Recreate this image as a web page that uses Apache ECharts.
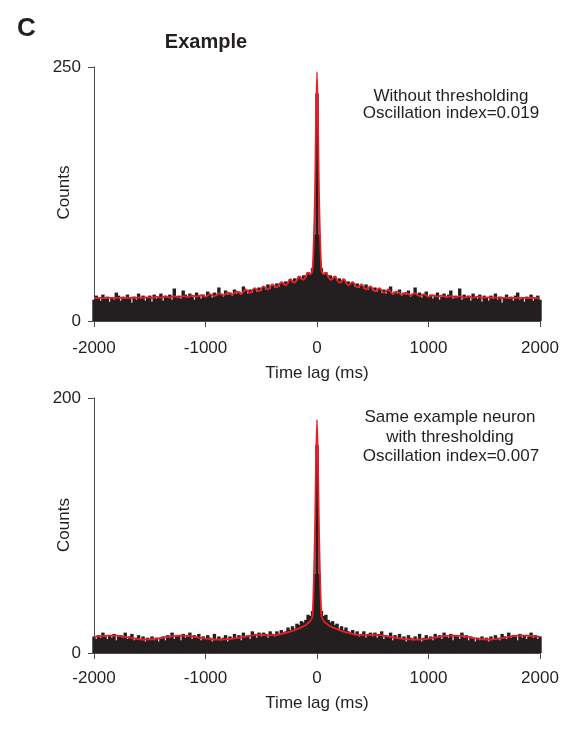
<!DOCTYPE html>
<html>
<head>
<meta charset="utf-8">
<script src="https://cdn.jsdelivr.net/npm/echarts@6/dist/echarts.min.js"></script>
<style>html,body{margin:0;padding:0;background:#fff}#c{width:572px;height:731px}</style>
</head>
<body>
<div id="c"></div>
<script>
// Autocorrelogram, 20 ms bins, lags -2000..2000 ms
const binWidthMs = 20;
const xTicks = [-2000, -1000, 0, 1000, 2000];

// ---- Top panel (without thresholding) ----
const topCountsNeg = [
  21, 25, 23, 20, 26, 22, 24, 19, 23, 21, 28, 25, 20, 24, 22, 26, 23, 18, 24, 21, 27, 22, 25, 20, 23,
  25, 19, 26, 22, 24, 27, 20, 25, 23, 26, 21, 32, 24, 25, 22, 30, 26, 23, 27, 24, 21, 28, 25, 22, 26,
  24, 29, 26, 23, 28, 25, 33, 27, 24, 30, 26, 28, 25, 31, 27, 29, 26, 34, 30, 27, 31, 28, 32, 29, 33,
  30, 34, 31, 36, 32, 35, 33, 37, 34, 38, 36, 39, 37, 41, 38, 42, 40, 44, 41, 45, 43, 48, 46, 52, 85
];
const topCountsZero = 224;
const topCountsPos = [
  85, 52, 46, 48, 43, 45, 41, 44, 40, 42, 38, 41, 37, 39, 36, 38, 34, 37, 33, 35, 32, 36, 31, 34, 30,
  33, 29, 32, 28, 31, 27, 30, 34, 26, 29, 27, 31, 25, 28, 26, 30, 24, 27, 33, 25, 28, 23, 26, 29, 24,
  26, 22, 25, 28, 21, 24, 27, 23, 26, 30, 22, 25, 24, 32, 21, 26, 23, 25, 20, 27, 24, 22, 26, 19, 25,
  23, 20, 25, 22, 27, 21, 24, 18, 23, 26, 22, 24, 20, 25, 28, 21, 23, 19, 24, 22, 26, 20, 23, 25, 21
];
const topFitNeg = [
  22.6, 22.5, 22.6, 22.8, 22.6, 22.7, 22.6, 22.8, 22.7, 22.6, 22.9, 22.7, 22.8, 22.6, 22.8, 22.9, 22.7, 22.9, 23.0, 22.8, 23.1, 22.9, 23.0, 23.3, 23.1,
  23.2, 22.8, 23.3, 23.7, 23.4, 23, 23.5, 23.9, 23.6, 23.1, 23.7, 24.2, 23.8, 23.3, 23.9, 24.5, 24.1, 23.7, 24.3, 24.9, 24.5, 24, 24.7, 25.4, 24.9,
  23.8, 25.1, 26.4, 25.4, 24.4, 25.8, 27.2, 26.2, 25.2, 26.6, 28, 27, 26.1, 27.5, 29, 28.1, 26.4, 28.7, 31, 29.3, 27.6, 30, 32.4, 30.8, 29.2,
  31.6, 34, 32.5, 31, 33.5, 36, 34.5, 33, 35.6, 38.2, 36.8, 34.9, 38, 41.2, 39.3, 37.5, 40.6, 43.8, 42, 40.5, 44, 47.5, 46, 50, 115
];
const topFitZero = 245;
const topFitPos = [
  115, 50, 46, 47.5, 44, 40.5, 42, 43.8, 40.6, 37.5, 39.3, 41.2, 38, 34.9, 36.8, 38.2, 35.6, 33, 34.5, 36, 33.5, 31, 32.5, 34, 31.6,
  29.2, 30.8, 32.4, 30, 27.6, 29.3, 31, 28.7, 26.4, 28.1, 29, 27.5, 26.1, 27, 28, 26.6, 25.2, 26.2, 27.2, 25.8, 24.4, 25.4, 26.4, 25.1, 23.8,
  24.9, 25.4, 24.7, 24, 24.5, 24.9, 24.3, 23.7, 24.1, 24.5, 23.9, 23.3, 23.8, 24.2, 23.7, 23.1, 23.6, 23.9, 23.5, 23, 23.4, 23.7, 23.3, 22.8, 23.2,
  23.1, 23.3, 23.0, 22.9, 23.1, 22.8, 23.0, 22.9, 22.7, 22.9, 22.8, 22.6, 22.8, 22.7, 22.9, 22.6, 22.7, 22.8, 22.6, 22.7, 22.6, 22.8, 22.6, 22.5, 22.6
];

// ---- Bottom panel (with thresholding) ----
const botCountsNeg = [
  13, 11, 14, 12, 16, 13, 11, 14, 12, 15, 10, 13, 14, 12, 16, 11, 13, 15, 10, 12, 14, 11, 13, 9, 12,
  11, 13, 10, 12, 9, 11, 13, 10, 14, 12, 16, 11, 13, 14, 10, 15, 12, 13, 16, 11, 14, 12, 15, 10, 13,
  11, 14, 12, 9, 15, 11, 13, 10, 12, 14, 9, 13, 11, 15, 12, 14, 10, 16, 13, 14, 11, 17, 15, 12, 16,
  13, 16, 15, 12, 17, 15, 13, 17, 14, 18, 16, 17, 20, 18, 21, 19, 23, 22, 25, 24, 26, 30, 29, 33, 62
];
const botCountsZero = 163;
const botCountsPos = [
  62, 33, 29, 30, 26, 24, 25, 22, 23, 19, 21, 18, 20, 17, 16, 18, 14, 17, 13, 15, 17, 12, 15, 16, 13,
  16, 12, 15, 17, 11, 14, 13, 16, 10, 14, 12, 15, 11, 13, 9, 14, 12, 10, 13, 11, 15, 9, 12, 14, 11,
  13, 10, 15, 12, 14, 11, 16, 13, 12, 15, 10, 14, 13, 11, 16, 12, 14, 10, 13, 11, 9, 12, 10, 13, 11,
  12, 9, 13, 11, 14, 12, 10, 15, 13, 11, 16, 12, 14, 13, 10, 15, 12, 14, 11, 13, 16, 12, 14, 11, 13
];
const botFitNeg = [
  12.8, 12.9, 13.1, 13.2, 13.4, 13.5, 13.6, 13.7, 13.7, 13.7, 13.6, 13.4, 13.2, 12.9, 12.6, 12.3, 12, 11.7, 11.4, 11.1, 10.9, 10.7, 10.6, 10.6, 10.6,
  10.7, 10.8, 11, 11.2, 11.5, 11.8, 12.1, 12.4, 12.7, 13, 13.2, 13.4, 13.5, 13.6, 13.6, 13.6, 13.5, 13.4, 13.2, 13, 12.7, 12.4, 12.1, 11.8, 11.5,
  11.2, 11, 10.8, 10.7, 10.6, 10.6, 10.6, 10.6, 10.7, 10.8, 10.9, 11, 11.2, 11.5, 11.7, 12, 12.3, 12.6, 12.9, 13.2, 13.5, 13.8, 14, 14.1, 14.2,
  14.2, 14.1, 14, 13.9, 13.9, 14, 14.1, 14.3, 14.6, 14.9, 15.3, 15.7, 16.2, 16.8, 17.4, 18, 18.7, 19.4, 20.2, 21, 22, 23.5, 25, 29, 88
];
const botFitZero = 183;
const botFitPos = [
  88, 29, 25, 23.5, 22, 21, 20.2, 19.4, 18.7, 18, 17.4, 16.8, 16.2, 15.7, 15.3, 14.9, 14.6, 14.3, 14.1, 14, 13.9, 13.9, 14, 14.1, 14.2,
  14.2, 14.1, 14, 13.8, 13.5, 13.2, 12.9, 12.6, 12.3, 12, 11.7, 11.5, 11.2, 11, 10.9, 10.8, 10.7, 10.6, 10.6, 10.6, 10.6, 10.7, 10.8, 11, 11.2,
  11.5, 11.8, 12.1, 12.4, 12.7, 13, 13.2, 13.4, 13.5, 13.6, 13.6, 13.6, 13.5, 13.4, 13.2, 13, 12.7, 12.4, 12.1, 11.8, 11.5, 11.2, 11, 10.8, 10.7,
  10.6, 10.6, 10.6, 10.7, 10.9, 11.1, 11.4, 11.7, 12, 12.3, 12.6, 12.9, 13.2, 13.4, 13.6, 13.7, 13.7, 13.7, 13.6, 13.5, 13.4, 13.2, 13.1, 12.9, 12.8
];

const topYMax = 250, botYMax = 200;
const topNote = ['Without thresholding', 'Oscillation index=0.019'];
const botNote = ['Same example neuron', 'with thresholding', 'Oscillation index=0.007'];

// ---- build series data ----
const topCounts = topCountsNeg.concat([topCountsZero], topCountsPos);
const topFit = topFitNeg.concat([topFitZero], topFitPos);
const botCounts = botCountsNeg.concat([botCountsZero], botCountsPos);
const botFit = botFitNeg.concat([botFitZero], botFitPos);
const lags = topCounts.map((_, i) => xTicks[0] + i * binWidthMs);
const pair = arr => arr.map((v, i) => [lags[i], v]);

const FONT = "'Liberation Sans', Arial, Helvetica, sans-serif";
const TXT = '#231f20';
const AX = '#4a4a4a';
const BAR = '#231f20';
const RED = '#ed1c24';

function xAx(gi, labelMargin, nameGap) {
  return {
    gridIndex: gi, type: 'value', min: -2000, max: 2000, interval: 1000,
    axisLine: { show: true, onZero: false, lineStyle: { color: AX, width: 1 } },
    axisTick: { show: true, length: 6, lineStyle: { color: AX, width: 1 } },
    axisLabel: { fontSize: 17, color: TXT, fontFamily: FONT, margin: labelMargin, formatter: v => String(v) },
    splitLine: { show: false },
    name: 'Time lag (ms)', nameLocation: 'middle', nameGap: nameGap,
    nameTextStyle: { fontSize: 17, color: TXT, fontFamily: FONT }
  };
}
function yAx(gi, max) {
  return {
    gridIndex: gi, type: 'value', min: 0, max: max, interval: max,
    axisLine: { show: true, onZero: false, lineStyle: { color: AX, width: 1 } },
    axisTick: { show: true, length: 6, lineStyle: { color: AX, width: 1 } },
    axisLabel: { fontSize: 17, color: TXT, fontFamily: FONT, margin: 13, formatter: v => String(v) },
    splitLine: { show: false }
  };
}
function txt(x, y, s, size, bold, align, rot) {
  return { type: 'text', x: x, y: y, rotation: rot || 0, style: { text: s, fontSize: size, fontWeight: bold ? 'bold' : 'normal',
    fontFamily: FONT, fill: TXT, textAlign: align || 'center', textVerticalAlign: 'middle' } };
}

const chart = echarts.init(document.getElementById('c'), null, { renderer: 'canvas' });
chart.setOption({
  animation: false,
  backgroundColor: '#fff',
  grid: [
    { left: 94, top: 67, width: 446, height: 254 },
    { left: 94, top: 398, width: 446, height: 255 }
  ],
  xAxis: [xAx(0, 19, 44), xAx(1, 17, 42)],
  yAxis: [yAx(0, topYMax), yAx(1, botYMax)],
  series: [
    { type: 'bar', xAxisIndex: 0, yAxisIndex: 0, data: pair(topCounts), barWidth: 3.4,
      itemStyle: { color: BAR, borderWidth: 0 }, silent: true, z: 2 },
    { type: 'line', xAxisIndex: 0, yAxisIndex: 0, data: pair(topFit), showSymbol: false, smooth: 0.3,
      lineStyle: { color: RED, width: 1.8 }, silent: true, z: 3 },
    { type: 'bar', xAxisIndex: 1, yAxisIndex: 1, data: pair(botCounts), barWidth: 3.4,
      itemStyle: { color: BAR, borderWidth: 0 }, silent: true, z: 2 },
    { type: 'line', xAxisIndex: 1, yAxisIndex: 1, data: pair(botFit), showSymbol: false, smooth: 0.3,
      lineStyle: { color: RED, width: 1.8 }, silent: true, z: 3 }
  ],
  graphic: [
    txt(17, 29, 'C', 26, true, 'left'),
    txt(206, 42, 'Example', 20, true),
    txt(64.5, 192.5, 'Counts', 17, false, 'center', Math.PI / 2),
    txt(64.5, 525, 'Counts', 17, false, 'center', Math.PI / 2),
    txt(451, 96, topNote[0], 17),
    txt(451, 113, topNote[1], 17),
    txt(450, 417, botNote[0], 17),
    txt(450, 437, botNote[1], 17),
    txt(451, 456, botNote[2], 17)
  ]
});
</script>
</body>
</html>
